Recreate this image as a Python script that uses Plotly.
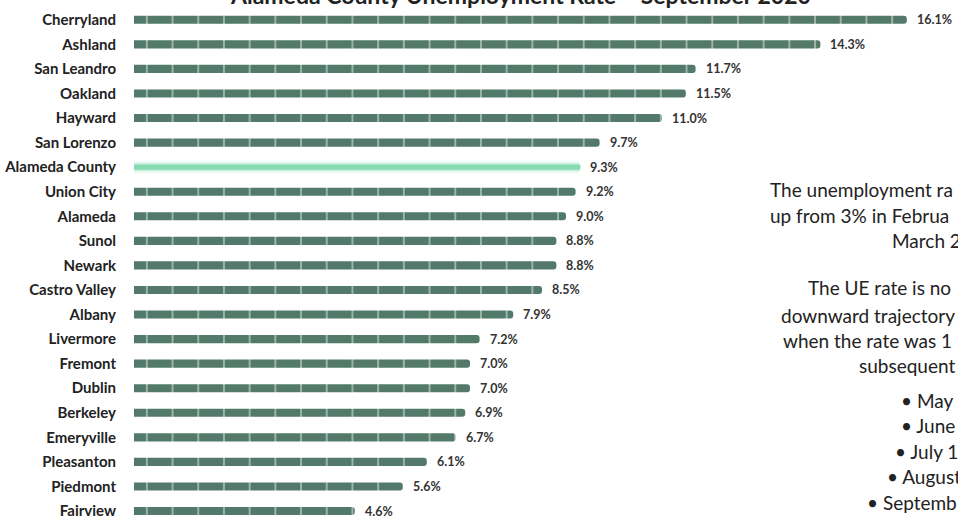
import plotly.graph_objects as go

# Unemployment rate by place, September 2020
places = ["Cherryland", "Ashland", "San Leandro", "Oakland", "Hayward", "San Lorenzo",
          "Alameda County", "Union City", "Alameda", "Sunol", "Newark", "Castro Valley",
          "Albany", "Livermore", "Fremont", "Dublin", "Berkeley", "Emeryville",
          "Pleasanton", "Piedmont", "Fairview"]
rates = [16.1, 14.3, 11.7, 11.5, 11.0, 9.7, 9.3, 9.2, 9.0, 8.8, 8.8, 8.5,
         7.9, 7.2, 7.0, 7.0, 6.9, 6.7, 6.1, 5.6, 4.6]
county = "Alameda County"

title_text = "Alameda County Unemployment Rate – September 2020"
side_lines = ["The unemployment ra", "up from 3% in Februa", "March 2",
              "The UE rate is no", "downward trajectory", "when the rate was 1",
              "subsequent", "• May 1", "• June 1", "• July 1", "• August", "• Septemb"]

BAR = "#52796a"
FONT = "Lato"
W, H = 958, 519
LEFT = 134
PLOT_W = W - LEFT

city_y = [p for p in places if p != county]
city_x = [r for p, r in zip(places, rates) if p != county]
county_x = [r for p, r in zip(places, rates) if p == county]

fig = go.Figure()
fig.add_trace(go.Bar(
    y=city_y, x=city_x, orientation="h", width=0.33,
    marker=dict(color=BAR, cornerradius=3, line=dict(width=0),
                pattern=dict(shape="|", size=25.7, solidity=0.05,
                             fgcolor="#c3d3cc", bgcolor=BAR, fillmode="replace")),
    hoverinfo="skip", showlegend=False))

# soft glowing bar for the county total
for w, op, col in [(0.55, 0.10, "#a6ecca"), (0.42, 0.18, "#9ae6c1"),
                   (0.32, 0.35, "#8fdfb8"), (0.22, 1.0, "#86dbb2")]:
    fig.add_trace(go.Bar(
        y=[county], x=county_x, orientation="h", width=w, opacity=op,
        marker=dict(color=col, cornerradius=4, line=dict(width=0)),
        hoverinfo="skip", showlegend=False))


def px_x(px):
    """page pixel column -> paper x (paper spans the plot area)"""
    return (px - LEFT) / PLOT_W


def px_y(py):
    return 1 - py / H


annotations = []
for p, r in zip(places, rates):
    annotations.append(dict(
        x=r, y=p, xref="x", yref="y", text=f"{r:.1f}%", showarrow=False,
        xanchor="left", yanchor="middle", xshift=8,
        font=dict(family=FONT, size=12.5, color="#333333", weight="bold")))

annotations.append(dict(
    x=px_x(520), y=px_y(11), xref="paper", yref="paper", text=title_text,
    showarrow=False, xanchor="center", yanchor="bottom",
    font=dict(family=FONT, size=23, color="#222222", weight="bold")))

side_pos = [(768, 189), (768, 215), (890, 240), (806, 288), (779, 315), (781, 340),
            (857, 365), (899, 400), (899, 425), (893, 451), (885, 476), (865, 502)]
for t, (px, py) in zip(side_lines, side_pos):
    annotations.append(dict(
        x=px_x(px), y=px_y(py), xref="paper", yref="paper", text=t,
        showarrow=False, xanchor="left", yanchor="middle",
        font=dict(family=FONT, size=19, color="#222222")))

fig.update_layout(
    width=W, height=H,
    margin=dict(l=LEFT, r=0, t=0, b=0),
    paper_bgcolor="white", plot_bgcolor="white",
    barmode="overlay",
    xaxis=dict(range=[0, PLOT_W / 48], visible=False, fixedrange=True),
    yaxis=dict(categoryorder="array", categoryarray=places,
               range=[20.325, -0.806], showgrid=False, zeroline=False,
               showline=False, ticks="", ticklabelstandoff=17,
               tickfont=dict(family=FONT, size=15, color="#222222", weight="bold")),
    annotations=annotations,
)

fig.write_html("out.html")
